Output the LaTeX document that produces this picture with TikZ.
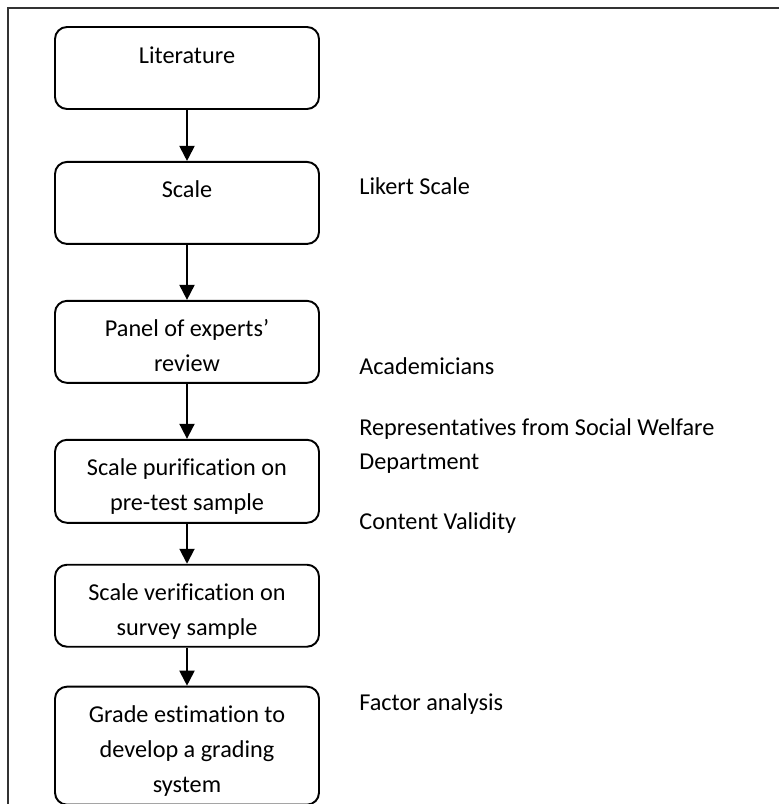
\documentclass[tikz,border=0pt]{standalone}
\usepackage{fontspec}
\setmainfont[Ligatures=NoCommon]{Carlito}
\usepackage{tikz}
\usetikzlibrary{positioning,arrows.meta}
\definecolor{FRFrame}{HTML}{333333}
\tikzset{
  stagebox/.style={draw,line width=1.1pt,rounded corners=0.24cm,minimum width=5.28cm,inner sep=0pt},
  stagetext/.style={anchor=base,align=center,inner sep=0pt,font=\fontsize{13.8}{19.9}\selectfont},
  sidenote/.style={anchor=base west,align=left,inner sep=0pt,font=\fontsize{13.8}{19.9}\selectfont},
  flowarrow/.style={line width=1.1pt,-{Triangle[width=0.3cm,length=0.3cm]}}
}
\begin{document}
\begin{tikzpicture}[x=1cm,y=1cm]
\path[use as bounding box] (0,0) rectangle (15.58,16.08);
% frame
\draw[FRFrame,line width=0.9pt] (0.16,0) -- (0.16,15.92) -- (15.58,15.92);
% stages
\node[stagebox,minimum height=1.64cm] (lit) at (3.74,14.72) {};
\node[stagebox,minimum height=1.64cm,below=1.02cm of lit] (scale) {};
\node[stagebox,minimum height=1.64cm,below=1.10cm of scale] (panel) {};
\node[stagebox,minimum height=1.66cm,below=1.10cm of panel] (purify) {};
\node[stagebox,minimum height=1.64cm,below=0.80cm of purify] (verify) {};
\node[stagebox,minimum height=2.36cm,below=0.76cm of verify] (grade) {};
% base = last line, so shift by the extra lines
\node[stagetext] (littext) at ([yshift=-0.74cm]lit.north) {Literature};
\node[stagetext] (scaletext) at ([yshift=-0.74cm]scale.north) {Scale};
\node[stagetext] (paneltext) at ([yshift=-1.44cm]panel.north) {Panel of experts’\\review};
\node[stagetext] (purifytext) at ([yshift=-1.44cm]purify.north) {Scale purification on\\pre-test sample};
\node[stagetext] (verifytext) at ([yshift=-1.44cm]verify.north) {Scale verification on\\survey sample};
\node[stagetext] (gradetext) at ([yshift=-2.14cm]grade.north) {Grade estimation to\\develop a grading\\system};
% arrows
\draw[flowarrow] (lit) -- (scale);
\draw[flowarrow] (scale) -- (panel);
\draw[flowarrow] (panel) -- (purify);
\draw[flowarrow] (purify) -- (verify);
\draw[flowarrow] (verify) -- (grade);
% notes
\node[sidenote] (likert) at (7.18,12.18) {Likert Scale};
\node[sidenote] (academ) at (7.18,8.58) {Academicians};
\node[sidenote] (reps) at (7.18,6.68) {Representatives from Social Welfare\\Department};
\node[sidenote] (content) at (7.18,5.48) {Content Validity};
\node[sidenote] (factor) at (7.18,1.86) {Factor analysis};
\end{tikzpicture}
\end{document}
